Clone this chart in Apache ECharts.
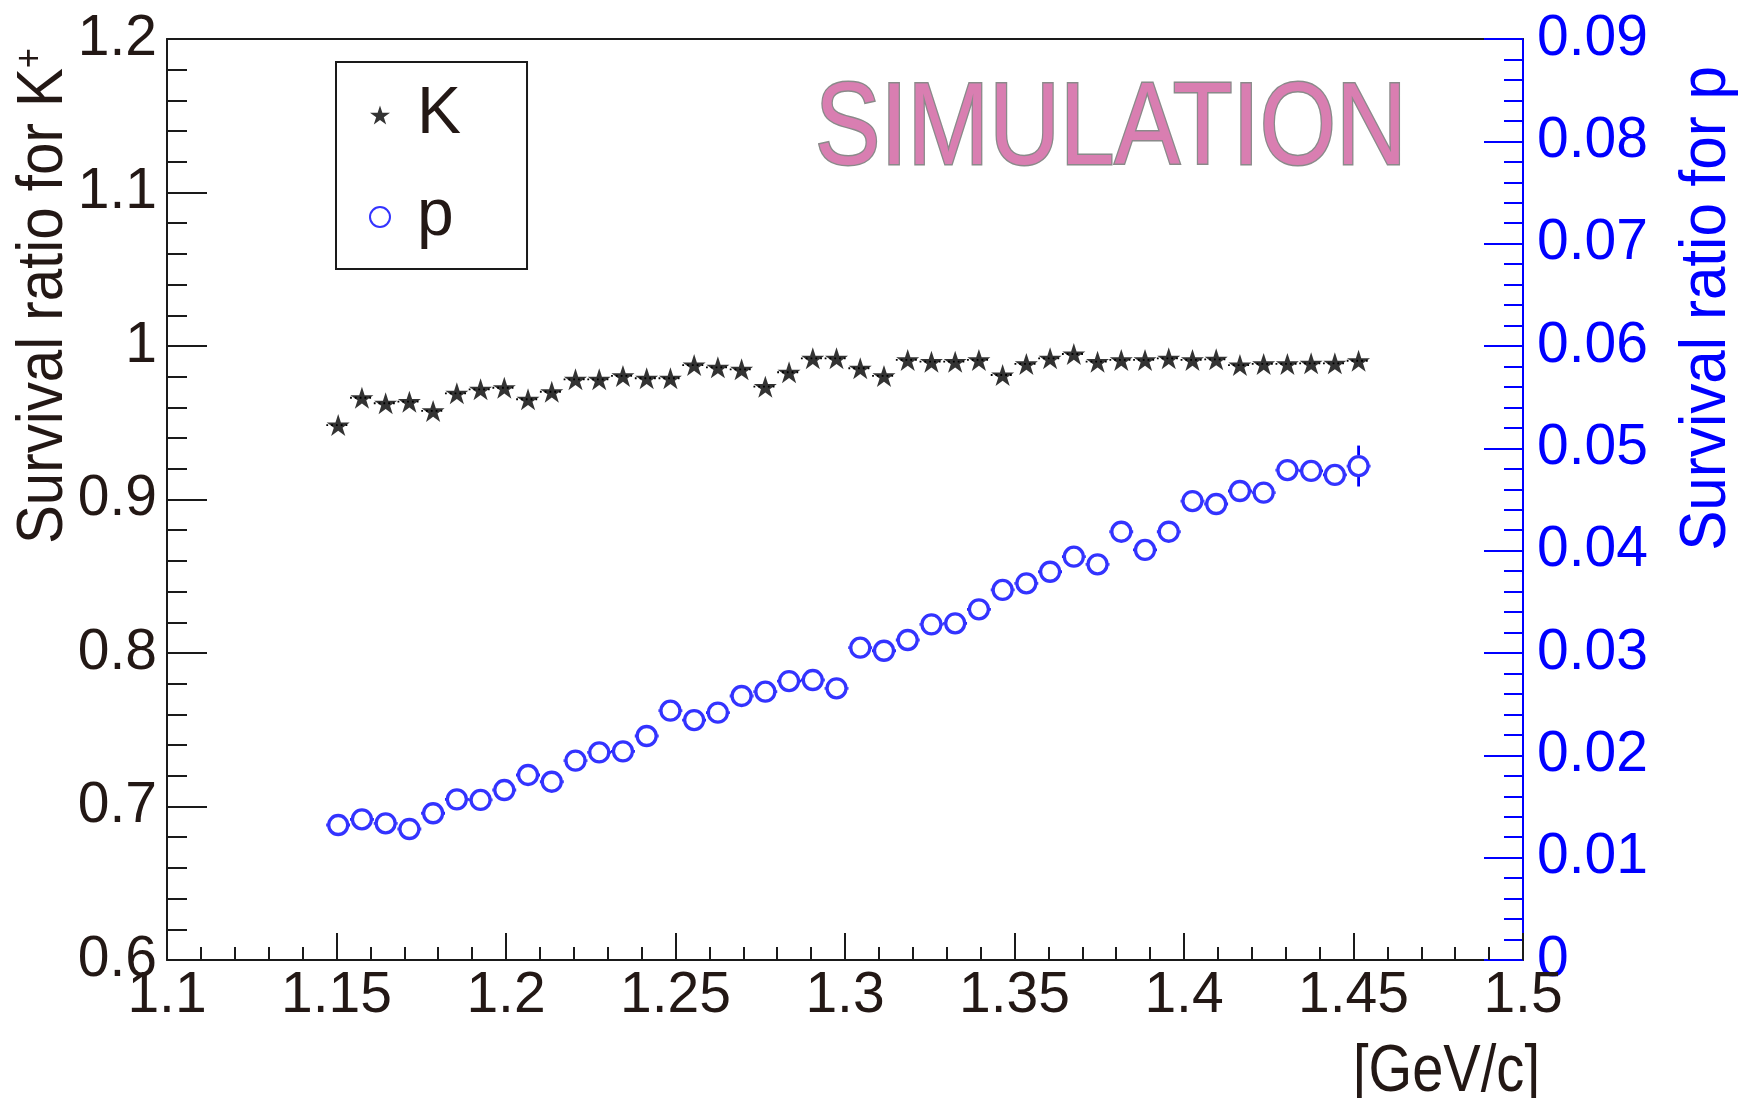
<!DOCTYPE html>
<html>
<head>
<meta charset="utf-8">
<title>Survival ratio</title>
<script src="https://cdn.jsdelivr.net/npm/echarts@6/dist/echarts.min.js"></script>
<style>
  html, body { margin: 0; padding: 0; background: #fff; }
  #chart { width: 1756px; height: 1098px; }
</style>
</head>
<body>
<div id="chart"></div>
<script>
// Momentum bin centres [GeV/c]
const momentum = [
  1.1505, 1.1575, 1.1645, 1.1715, 1.1785, 1.1855, 1.1925, 1.1995, 1.2065, 1.2135, 1.2205,
  1.2275, 1.2345, 1.2415, 1.2485, 1.2555, 1.2625, 1.2695, 1.2765, 1.2835, 1.2905, 1.2975,
  1.3045, 1.3115, 1.3185, 1.3255, 1.3325, 1.3395, 1.3465, 1.3535, 1.3605, 1.3675, 1.3745,
  1.3815, 1.3885, 1.3955, 1.4025, 1.4095, 1.4165, 1.4235, 1.4305, 1.4375, 1.4445, 1.4515
];
// Half width of a momentum bin (horizontal error bar)
const binHalfWidth = 0.0035;

// Survival ratio for K+ (left axis)
const kaonRatio = [
  0.9485, 0.9663, 0.9627, 0.9637, 0.9577, 0.9692, 0.9718, 0.9728, 0.9653, 0.9702, 0.9783,
  0.9783, 0.9805, 0.9790, 0.9790, 0.9876, 0.9861, 0.9848, 0.9735, 0.9829, 0.9920, 0.9920,
  0.9855, 0.9805, 0.9909, 0.9898, 0.9898, 0.9909, 0.9811, 0.9883, 0.9920, 0.9948, 0.9898,
  0.9909, 0.9909, 0.9920, 0.9909, 0.9913, 0.9876, 0.9883, 0.9883, 0.9887, 0.9887, 0.9904
];

// Survival ratio for p (right axis)
const protonRatio = [
  0.01319, 0.01375, 0.01336, 0.01280, 0.01434, 0.01570, 0.01564, 0.01661, 0.01808, 0.01742, 0.01948,
  0.02028, 0.02039, 0.02189, 0.02436, 0.02345, 0.02417, 0.02580, 0.02622, 0.02726, 0.02736, 0.02655,
  0.03052, 0.03022, 0.03127, 0.03280, 0.03290, 0.03427, 0.03616, 0.03681, 0.03794, 0.03941, 0.03867,
  0.04185, 0.04007, 0.04185, 0.04485, 0.04456, 0.04583, 0.04567, 0.04788, 0.04779, 0.04740, 0.04827
];
// Statistical error on the proton ratio (only the last bin exceeds the marker)
const protonError = [
  0, 0, 0, 0, 0, 0, 0, 0, 0, 0, 0,
  0, 0, 0, 0, 0, 0, 0, 0, 0, 0, 0,
  0, 0, 0, 0, 0, 0, 0, 0, 0, 0, 0,
  0, 0, 0, 0, 0, 0, 0, 0, 0, 0, 0.0020
];

// Tick labels
const xTickLabels = ['1.1', '1.15', '1.2', '1.25', '1.3', '1.35', '1.4', '1.45', '1.5'];
const kaonTickLabels = ['0.6', '0.7', '0.8', '0.9', '1', '1.1', '1.2'];
const protonTickLabels = ['0', '0.01', '0.02', '0.03', '0.04', '0.05', '0.06', '0.07', '0.08', '0.09'];

const FONT = "'Liberation Sans', 'Noto Sans', sans-serif";
const INK = '#231815';
const BLUE = '#0000ff';
const STAR = 'path://M0,-10L2.245,-3.09L9.51,-3.09L3.633,1.18L5.88,8.09L0,3.82L-5.88,8.09L-3.633,1.18L-9.51,-3.09L-2.245,-3.09Z';
const MARKER_R = 11;

const kaonPoints = momentum.map((x, i) => [x, kaonRatio[i]]);
const protonPoints = momentum.map((x, i) => [x, protonRatio[i]]);
const kaonBars = momentum.map((x, i) => [x, kaonRatio[i], binHalfWidth, 0]);
const protonBars = momentum.map((x, i) => [x, protonRatio[i], binHalfWidth, protonError[i]]);

function kaonErrorBar(params, api) {
  const x = api.value(0), y = api.value(1), ex = api.value(2);
  const l = api.coord([x - ex, y]);
  const r = api.coord([x + ex, y]);
  return {
    type: 'line',
    shape: { x1: l[0], y1: l[1], x2: r[0], y2: r[1] },
    style: { stroke: '#000', lineWidth: 1.8, lineDash: [1.8, 3] }
  };
}

function protonErrorBar(params, api) {
  const x = api.value(0), y = api.value(1), ex = api.value(2), ey = api.value(3);
  const c = api.coord([x, y]);
  const l = api.coord([x - ex, y]);
  const r = api.coord([x + ex, y]);
  const st = { stroke: BLUE, lineWidth: 2.8 };
  const kids = [];
  if (c[0] - MARKER_R > l[0]) kids.push({ type: 'line', shape: { x1: l[0], y1: c[1], x2: c[0] - MARKER_R, y2: c[1] }, style: st });
  if (r[0] > c[0] + MARKER_R) kids.push({ type: 'line', shape: { x1: c[0] + MARKER_R, y1: c[1], x2: r[0], y2: c[1] }, style: st });
  if (ey > 0) {
    const t = api.coord([x, y + ey]);
    const b = api.coord([x, y - ey]);
    if (c[1] - MARKER_R > t[1]) kids.push({ type: 'line', shape: { x1: c[0], y1: t[1], x2: c[0], y2: c[1] - MARKER_R }, style: st });
    if (b[1] > c[1] + MARKER_R) kids.push({ type: 'line', shape: { x1: c[0], y1: c[1] + MARKER_R, x2: c[0], y2: b[1] }, style: st });
  }
  return { type: 'group', children: kids };
}

const chart = echarts.init(document.getElementById('chart'), null, { renderer: 'canvas' });

const tickFont = { fontFamily: FONT, fontSize: 57, color: INK };

chart.setOption({
  backgroundColor: '#fff',
  animation: false,
  grid: { left: 167, right: 233, top: 39, bottom: 138, containLabel: false },
  xAxis: [
    {
      type: 'value', position: 'bottom', min: 1.1, max: 1.5, interval: 0.05,
      axisLine: { show: true, onZero: false, lineStyle: { color: '#1a1a1a', width: 2 } },
      axisTick: { show: true, inside: true, length: 27, lineStyle: { color: '#1a1a1a', width: 2 } },
      minorTick: { show: true, splitNumber: 5, length: 13, lineStyle: { color: '#1a1a1a', width: 2 } },
      splitLine: { show: false },
      axisLabel: Object.assign({ margin: 8, formatter: v => xTickLabels[Math.round((v - 1.1) / 0.05)] }, tickFont)
    },
    {
      type: 'value', position: 'top', min: 1.1, max: 1.5,
      axisLine: { show: true, onZero: false, lineStyle: { color: '#1a1a1a', width: 2 } },
      axisTick: { show: false }, axisLabel: { show: false }, splitLine: { show: false }
    }
  ],
  yAxis: [
    {
      type: 'value', position: 'left', min: 0.6, max: 1.2, interval: 0.1,
      axisLine: { show: true, onZero: false, lineStyle: { color: '#1a1a1a', width: 2 } },
      axisTick: { show: true, inside: true, length: 40, lineStyle: { color: '#1a1a1a', width: 2 } },
      minorTick: { show: true, splitNumber: 5, length: 20, lineStyle: { color: '#1a1a1a', width: 2 } },
      splitLine: { show: false },
      axisLabel: Object.assign({ margin: 10, formatter: v => kaonTickLabels[Math.round((v - 0.6) / 0.1)] }, tickFont)
    },
    {
      type: 'value', position: 'right', min: 0, max: 0.09, interval: 0.01,
      axisLine: { show: true, onZero: false, lineStyle: { color: BLUE, width: 2 } },
      axisTick: { show: true, inside: true, length: 39, lineStyle: { color: BLUE, width: 2 } },
      minorTick: { show: true, splitNumber: 5, length: 19, lineStyle: { color: BLUE, width: 2 } },
      splitLine: { show: false },
      axisLabel: { margin: 14, fontFamily: FONT, fontSize: 57, color: BLUE,
        formatter: v => protonTickLabels[Math.round(v / 0.01)] }
    }
  ],
  legend: {
    orient: 'vertical', left: 336, top: 62,
    padding: [12, 66, 11, 33],
    itemWidth: 20, itemHeight: 20, itemGap: 20,
    borderColor: '#1a1a1a', borderWidth: 2, backgroundColor: '#fff',
    selectedMode: false,
    textStyle: { fontFamily: FONT, fontSize: 66, lineHeight: 82, color: INK, padding: [0, 0, 0, 22] },
    data: [ { name: 'K', icon: STAR }, { name: 'p', icon: 'circle' } ]
  },
  series: [
    {
      type: 'custom', name: 'K-err', xAxisIndex: 0, yAxisIndex: 0,
      renderItem: kaonErrorBar, data: kaonBars, z: 1, silent: true,
      encode: { x: 0, y: 1 }
    },
    {
      type: 'custom', name: 'p-err', xAxisIndex: 0, yAxisIndex: 1,
      renderItem: protonErrorBar, data: protonBars, z: 1, silent: true,
      encode: { x: 0, y: 1 }
    },
    {
      type: 'scatter', name: 'K', xAxisIndex: 0, yAxisIndex: 0,
      symbol: STAR, symbolSize: [23, 22], z: 3,
      itemStyle: { color: '#000' },
      data: kaonPoints
    },
    {
      type: 'scatter', name: 'p', xAxisIndex: 0, yAxisIndex: 1,
      symbol: 'circle', symbolSize: 19, z: 3,
      itemStyle: { color: 'rgba(255,255,255,0)', borderColor: BLUE, borderWidth: 3.3 },
      data: protonPoints
    }
  ],
  graphic: [
    {
      type: 'text', x: 815, y: 74, z: 10, scaleX: 0.845,
      style: {
        text: 'SIMULATION', font: '116px ' + FONT,
        fill: '#d97eb1', stroke: '#8a8a8a', lineWidth: 3,
        textAlign: 'left', textVerticalAlign: 'top'
      }
    },
    {
      type: 'text', x: 12, y: 48, rotation: Math.PI / 2, scaleX: 0.91, z: 10,
      style: {
        text: '{a|Survival ratio for K}{s|+}',
        textAlign: 'right', textVerticalAlign: 'top',
        rich: {
          a: { fontFamily: FONT, fontSize: 64, fill: INK, verticalAlign: 'bottom' },
          s: { fontFamily: FONT, fontSize: 38, fill: INK, verticalAlign: 'top' }
        }
      }
    },
    {
      type: 'text', x: 1675, y: 66, rotation: Math.PI / 2, scaleX: 0.94, z: 10,
      style: {
        text: 'Survival ratio for p', font: '64px ' + FONT, fill: BLUE,
        textAlign: 'right', textVerticalAlign: 'top'
      }
    },
    {
      type: 'text', x: 1540, y: 1040, z: 10, scaleX: 0.85,
      style: {
        text: '[GeV/c]', font: '66px ' + FONT, fill: INK,
        textAlign: 'right', textVerticalAlign: 'top'
      }
    }
  ]
});
</script>
</body>
</html>
